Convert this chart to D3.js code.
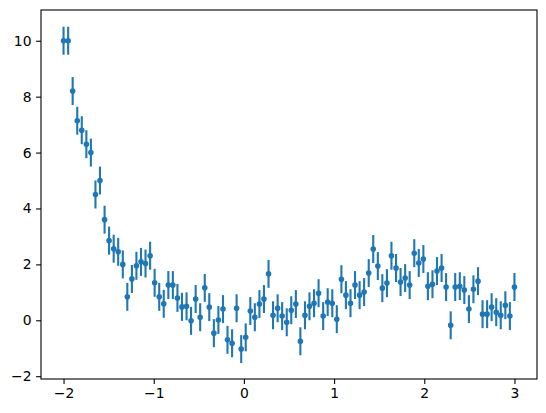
<!DOCTYPE html>
<html>
<head>
<meta charset="utf-8">
<script src="https://cdn.jsdelivr.net/npm/d3@7"></script>
<style>
  body { margin: 0; background: #fff; }
  svg { display: block; }
  .tick text { font-family: "DejaVu Sans", sans-serif; font-size: 13.9px; fill: #000; }
</style>
</head>
<body>
<div id="chart"></div>
<script>
// x positions of the samples
var xValues = [
  -2.000, -1.949, -1.899, -1.848, -1.798, -1.747, -1.697, -1.646, -1.596, -1.545,
  -1.495, -1.444, -1.394, -1.343, -1.293, -1.242, -1.192, -1.141, -1.091, -1.040,
  -0.990, -0.939, -0.889, -0.838, -0.788, -0.737, -0.687, -0.636, -0.586, -0.535,
  -0.485, -0.434, -0.384, -0.333, -0.283, -0.232, -0.182, -0.131, -0.081, -0.030,
   0.020,  0.071,  0.121,  0.172,  0.222,  0.273,  0.323,  0.374,  0.424,  0.475,
   0.525,  0.576,  0.626,  0.677,  0.727,  0.778,  0.828,  0.879,  0.929,  0.980,
   1.030,  1.081,  1.131,  1.182,  1.232,  1.283,  1.333,  1.384,  1.434,  1.485,
   1.535,  1.586,  1.636,  1.687,  1.737,  1.788,  1.838,  1.889,  1.939,  1.990,
   2.040,  2.091,  2.141,  2.192,  2.242,  2.293,  2.343,  2.394,  2.444,  2.495,
   2.545,  2.596,  2.646,  2.697,  2.747,  2.798,  2.848,  2.899,  2.949,  3.000
];

// measured values
var yValues = [
  10.0, 10.0, 8.2, 7.14, 6.8, 6.3, 6.0, 4.5, 5.0, 3.6,
  2.85, 2.56, 2.45, 2.0, 0.84, 1.48, 1.95, 2.09, 2.03, 2.31,
  1.34, 0.84, 0.59, 1.26, 1.26, 0.80, 0.48, 0.50, -0.02, 0.76,
  0.11, 1.16, 0.47, -0.46, 0.01, 0.40, -0.70, -0.82, 0.43, -1.03,
  -0.61, 0.33, 0.11, 0.58, 0.76, 1.66, 0.18, 0.43, 0.15, -0.07,
  0.36, 0.58, -0.75, 0.18, 0.50, 0.61, 0.97, 0.15, 0.65, 0.61,
  0.04, 1.47, 0.90, 0.61, 1.26, 0.90, 1.01, 1.69, 2.55, 1.94,
  1.15, 1.33, 2.31, 1.87, 1.37, 1.51, 1.26, 2.40, 2.05, 2.19,
  1.22, 1.29, 1.76, 1.87, 1.19, -0.18, 1.19, 1.22, 1.08, 0.40,
  1.11, 1.40, 0.22, 0.22, 0.47, 0.29, 0.18, 0.54, 0.15, 1.19
];

// symmetric error on every point
var yError = 0.5;

var xTicks = [-2, -1, 0, 1, 2, 3];
var yTicks = [-2, 0, 2, 4, 6, 8, 10];

var width = 546, height = 413;
var plot = { left: 41, right: 537, top: 10, bottom: 379 };
var color = '#1f77b4';

var svg = d3.select('#chart').append('svg')
    .attr('width', width)
    .attr('height', height);

var x = d3.scaleLinear().domain([-2.25, 3.25]).range([plot.left, plot.right]);
var y = d3.scaleLinear().domain([-2.1, 11.1]).range([plot.bottom, plot.top]);

var points = xValues.map(function(v, i) { return { x: v, y: yValues[i] }; });

var minus = function(d) { return d3.format('d')(d).replace('-', '\u2212'); };

// error bars
svg.append('g')
    .selectAll('line')
    .data(points)
    .enter().append('line')
    .attr('x1', d => x(d.x))
    .attr('x2', d => x(d.x))
    .attr('y1', d => y(d.y - yError))
    .attr('y2', d => y(d.y + yError))
    .attr('stroke', color)
    .attr('stroke-width', 2.1);

// markers
svg.append('g')
    .selectAll('circle')
    .data(points)
    .enter().append('circle')
    .attr('cx', d => x(d.x))
    .attr('cy', d => y(d.y))
    .attr('r', 2.1)
    .attr('fill', color)
    .attr('stroke', color)
    .attr('stroke-width', 1.4);

// axes
var xAxis = svg.append('g')
    .attr('transform', 'translate(0,' + plot.bottom + ')')
    .call(d3.axisBottom(x).tickValues(xTicks).tickFormat(minus).tickSize(4.9).tickPadding(4.6));

var yAxis = svg.append('g')
    .attr('transform', 'translate(' + plot.left + ',0)')
    .call(d3.axisLeft(y).tickValues(yTicks).tickFormat(minus).tickSize(4.9).tickPadding(4.6));

[xAxis, yAxis].forEach(function(a) {
    a.select('.domain').remove();
    a.selectAll('.tick line').attr('stroke', '#000').attr('stroke-width', 1.1);
});

// frame
svg.append('rect')
    .attr('x', plot.left)
    .attr('y', plot.top)
    .attr('width', plot.right - plot.left)
    .attr('height', plot.bottom - plot.top)
    .attr('fill', 'none')
    .attr('stroke', '#000')
    .attr('stroke-width', 1.1);
</script>
</body>
</html>
